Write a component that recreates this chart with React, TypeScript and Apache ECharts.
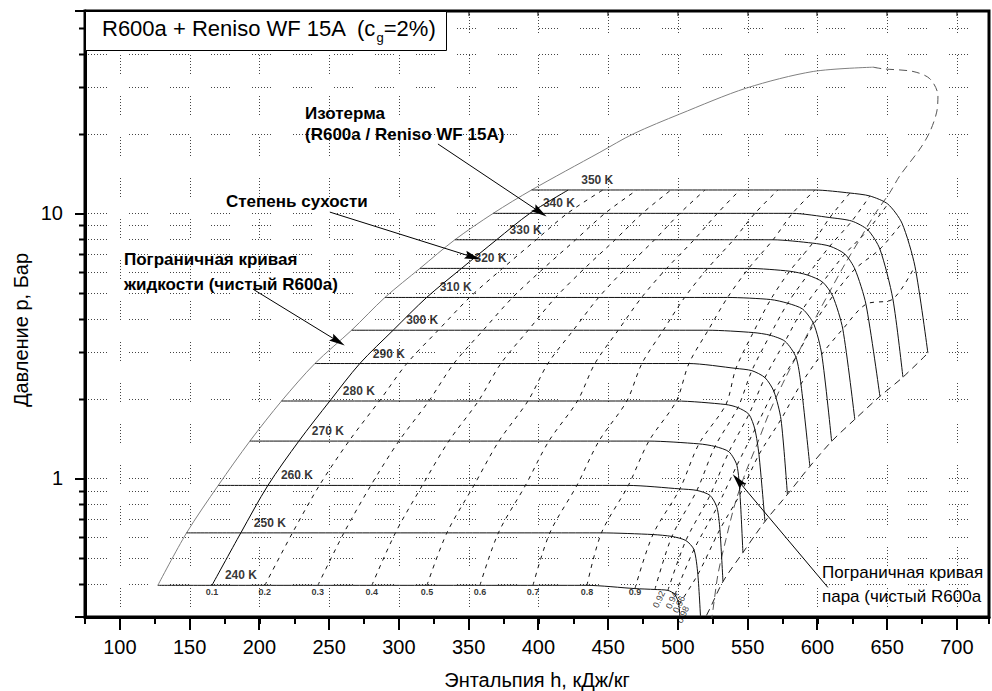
import React, { useEffect, useRef } from 'react';
import * as echarts from 'echarts';

const FONT = "'Liberation Sans', Arial, Helvetica, sans-serif";

// ---- axes ----
const xMin = 75;
const xMax = 723;
const yMin = 0.3;
const yMax = 58;
const xMajorTicks = [100, 150, 200, 250, 300, 350, 400, 450, 500, 550, 600, 650, 700];
const yMinorTicks = [0.4, 0.5, 0.6, 0.7, 0.8, 0.9, 2, 3, 4, 5, 6, 7, 8, 9, 20, 30, 40, 50];
const yGridLines = [0.4, 0.5, 0.6, 0.7, 0.8, 0.9, 1, 2, 3, 4, 5, 6, 7, 8, 9, 10, 20, 30, 40, 50];

// ---- isotherms (K) and their pressure level (bar) ----
const temps = [240, 250, 260, 270, 280, 290, 300, 310, 320, 330, 340, 350];
const isoP = [0.395, 0.623, 0.941, 1.383, 1.959, 2.713, 3.623, 4.816, 6.199, 7.949, 10.0, 12.25];

// dryness fractions of the point columns
const qualities = [0, 0.1, 0.2, 0.3, 0.4, 0.5, 0.6, 0.7, 0.8, 0.9, 0.92, 0.94, 0.96, 0.98, 1.0];

// enthalpy at q = 0 ... 0.9 on every isotherm (flat part)
const isoFlatH = [
  [127.2, 166.0, 203.9, 241.9, 280.6, 320.1, 358.1, 396.1, 434.8, 469.2],
  [147.8, 186.7, 223.7, 260.6, 297.5, 334.4, 371.3, 408.2, 445.2, 482.1],
  [170.5, 206.1, 243.0, 279.9, 316.8, 353.8, 390.7, 427.6, 464.5, 501.4],
  [193.2, 228.3, 264.2, 300.0, 335.8, 371.7, 407.5, 443.4, 479.2, 515.1],
  [215.9, 250.5, 286.0, 321.5, 357.0, 392.5, 428.0, 463.4, 498.9, 534.4],
  [239.8, 272.0, 305.7, 339.4, 373.1, 406.8, 440.5, 474.2, 507.9, 541.6],
  [266.1, 295.9, 328.2, 360.4, 392.7, 425.0, 457.2, 489.5, 521.7, 554.0],
  [290.0, 319.9, 350.7, 381.5, 412.3, 443.2, 474.0, 504.8, 535.6, 566.5],
  [315.1, 344.9, 374.3, 403.7, 433.1, 462.5, 491.9, 521.3, 550.7, 580.1],
  [340.1, 370.0, 398.4, 426.7, 455.0, 483.3, 511.6, 539.9, 568.2, 596.6],
  [367.6, 393.9, 420.8, 447.7, 474.5, 501.4, 528.3, 555.2, 582.1, 608.9],
  [395.1, 421.4, 446.2, 470.6, 495.0, 519.4, 544.4, 571.7, 598.2, 623.3],
];
// pressure at q = 0.9
const isoP90 = [0.384, 0.614, 0.913, 1.35, 1.9, 2.6, 3.55, 4.73, 6.05, 7.72, 9.64, 11.93];
// bend of each isotherm: q = 0.92, 0.94, 0.96, 0.98, end
const isoBendH = [
  [483.5, 492.8, 497.9, 500.7, 502.2],
  [495.7, 505.7, 511.5, 514.3, 516.5],
  [513.6, 523.0, 528.0, 530.1, 532.3],
  [526.6, 536.6, 542.3, 544.5, 546.6],
  [543.0, 550.9, 555.2, 558.1, 562.4],
  [553.0, 562.4, 568.8, 573.9, 578.5],
  [566.0, 576.8, 584.6, 588.2, 594.6],
  [578.7, 589.5, 597.4, 603.1, 610.2],
  [593.0, 603.8, 611.0, 618.2, 626.8],
  [608.9, 619.7, 626.9, 634.8, 644.8],
  [624.7, 636.2, 644.8, 654.1, 661.3],
  [637.6, 650.5, 660.6, 669.9, 679.2],
];
const isoBendP = [
  [0.381, 0.378, 0.365, 0.334, 0.246],
  [0.604, 0.583, 0.539, 0.434, 0.281],
  [0.901, 0.863, 0.777, 0.642, 0.408],
  [1.32, 1.26, 1.12, 0.87, 0.525],
  [1.85, 1.745, 1.53, 1.23, 0.688],
  [2.55, 2.4, 2.13, 1.67, 0.87],
  [3.47, 3.29, 2.87, 2.27, 1.11],
  [4.58, 4.35, 3.82, 2.94, 1.38],
  [5.85, 5.5, 4.87, 3.66, 1.67],
  [7.52, 7.02, 6.16, 4.54, 2.04],
  [9.35, 8.65, 7.33, 4.75, 2.41],
  [11.63, 10.84, 9.19, 6.32, 2.97],
];

// liquid boundary curve of pure R600a above 350 K
const liqUpperH = [444.1, 468.0, 501.4, 549.2, 597.0, 640.0];
const liqUpperP = [17.0, 19.94, 23.7, 29.7, 34.3, 35.6];
// vapour boundary curve of pure R600a (dashed)
const vapH = [640.0, 647.0, 668.5, 680.6, 686.4, 685.5, 680.6, 673.5, 659.1, 652.0, 641.2, 630.5, 619.7, 609.0, 598.2, 587.5, 576.7, 565.9, 556.6, 548.0, 540.8, 534.4, 528.7, 524.4, 522.2];
const vapP = [35.6, 35.1, 34.3, 32.2, 27.8, 24.1, 20.3, 17.5, 13.87, 12.0, 9.94, 8.0, 6.43, 5.09, 3.99, 3.07, 2.37, 1.79, 1.34, 1.035, 0.798, 0.588, 0.434, 0.301, 0.269];

// annotation arrows (from -> to), data coordinates
const arrowFrom = [[328.0, 18.27], [250.5, 10.11], [195.3, 5.18], [607.5, 0.388]];
const arrowTo = [[401.1, 10.11], [353.0, 6.84], [256.3, 3.29], [543.0, 0.983]];

const DOTS = [1, 2, 1, 2, 1, 2, 1, 2, 1, 2, 1, 2, 1, 22];
const ARROW = 'path://M5,0L10,20L5,17L0,20Z';

function isoPoints(i: number): number[][] {
  const pts: number[][] = [];
  for (let k = 0; k < 9; k++) pts.push([isoFlatH[i][k], isoP[i]]);
  pts.push([isoFlatH[i][9], isoP90[i]]);
  for (let j = 0; j < 5; j++) pts.push([isoBendH[i][j], isoBendP[i][j]]);
  return pts;
}

function buildOption(): any {
  const series: any[] = [];

  // horizontal dotted grid
  series.push({
    type: 'custom', silent: true, z: 1,
    data: yGridLines.map((v) => [xMin, v]),
    renderItem: (params: any, api: any) => {
      const cs = params.coordSys;
      const y = Math.round(api.coord([api.value(0), api.value(1)])[1]) + 0.5;
      return {
        type: 'line',
        shape: { x1: cs.x + 3, y1: y, x2: cs.x + cs.width - 2, y2: y },
        style: { stroke: '#444', lineWidth: 1, lineDash: DOTS },
      };
    },
  });
  // vertical dotted grid
  series.push({
    type: 'custom', silent: true, z: 1,
    data: xMajorTicks.map((v) => [v, 1]),
    renderItem: (params: any, api: any) => {
      const cs = params.coordSys;
      const x = Math.round(api.coord([api.value(0), api.value(1)])[0]) + 0.5;
      return {
        type: 'line',
        shape: { x1: x, y1: cs.y + 3, x2: x, y2: cs.y + cs.height - 2 },
        style: { stroke: '#444', lineWidth: 1, lineDash: DOTS },
      };
    },
  });
  // y minor ticks
  series.push({
    type: 'custom', silent: true, z: 5,
    data: yMinorTicks.map((v) => [xMin, v]),
    renderItem: (params: any, api: any) => {
      const cs = params.coordSys;
      const y = Math.round(api.coord([api.value(0), api.value(1)])[1]) + 0.5;
      return {
        type: 'line',
        shape: { x1: cs.x - 6, y1: y, x2: cs.x, y2: y },
        style: { stroke: '#000', lineWidth: 2 },
      };
    },
  });
  // x major ticks (bottom outside, top inside)
  series.push({
    type: 'custom', silent: true, z: 5,
    data: xMajorTicks.map((v) => [v, 1]),
    renderItem: (params: any, api: any) => {
      const cs = params.coordSys;
      const x = Math.round(api.coord([api.value(0), api.value(1)])[0]);
      return {
        type: 'group',
        children: [
          { type: 'line', shape: { x1: x, y1: cs.y + cs.height, x2: x, y2: cs.y + cs.height + 13 }, style: { stroke: '#000', lineWidth: 2 } },
          { type: 'line', shape: { x1: x, y1: cs.y, x2: x, y2: cs.y + 5 }, style: { stroke: '#000', lineWidth: 1 } },
        ],
      };
    },
  });

  // liquid boundary (grey)
  const liq = temps.map((_, i) => isoPoints(i)[0]).concat(liqUpperH.map((h, j) => [h, liqUpperP[j]]));
  series.push({
    type: 'line', name: 'liquid', data: liq, symbol: 'none', smooth: 0.3, silent: true, z: 3,
    lineStyle: { color: '#808080', width: 1 },
  });
  // annotation arrows
  series.push({
    type: 'line', name: 'arrows', data: [], symbol: 'none', silent: true, z: 7,
    markLine: {
      silent: true,
      symbol: ['none', ARROW],
      symbolSize: 16,
      symbolKeepAspect: true,
      itemStyle: { color: '#000' },
      lineStyle: { color: '#000', width: 1, type: 'solid' },
      label: { show: false },
      emphasis: { disabled: true },
      data: arrowFrom.map((f, i) => [{ coord: f }, { coord: arrowTo[i] }]),
    },
  });
  // vapour boundary (dashed)
  series.push({
    type: 'line', name: 'vapour', data: vapH.map((h, j) => [h, vapP[j]]), symbol: 'none', smooth: 0.3, silent: true, z: 3,
    lineStyle: { color: '#555', width: 1, type: [8, 5] },
  });

  // isotherms
  temps.forEach((T, i) => {
    series.push({
      type: 'line', name: `${T} K`, data: isoPoints(i), symbol: 'none', smooth: 0.25, silent: true, z: 4,
      lineStyle: { color: '#111', width: 1 },
    });
  });

  // dryness lines
  qualities.forEach((q, k) => {
    if (k === 0) return;
    const pts = temps.map((_, i) => isoPoints(i)[k]);
    let ls: any = { color: '#111', width: 1, type: [4, 5] };
    if (k === 1) ls = { color: '#000', width: 1, type: 'solid' };
    if (q === 1) ls = { color: '#222', width: 1, type: [7, 5] };
    series.push({ type: 'line', name: `x=${q}`, data: pts, symbol: 'none', smooth: 0.3, silent: true, z: 3, lineStyle: ls });
  });

  const lbl = { color: '#000', textBorderWidth: 0, textShadowBlur: 0, fontFamily: FONT };
  // isotherm labels
  series.push({
    type: 'scatter', silent: true, z: 6, symbolSize: 0, itemStyle: { color: '#000' },
    data: temps.map((T, i) => ({ value: [isoFlatH[i][1], isoP[i]], name: `${T} K` })),
    label: { show: true, formatter: '{b}', position: 'right', distance: 0, offset: [13, -10], fontSize: 12, fontWeight: 'bold', ...lbl },
  });
  // dryness labels 0.1 ... 0.9
  series.push({
    type: 'scatter', silent: true, z: 6, symbolSize: 0, itemStyle: { color: '#000' },
    data: qualities.slice(1, 10).map((q, k) => ({ value: [isoFlatH[0][k + 1], isoP[0]], name: String(q) })),
    label: { show: true, formatter: '{b}', position: 'bottom', distance: 2, fontSize: 9, fontWeight: 'bold', ...lbl },
  });
  // dryness labels in the bend
  series.push({
    type: 'scatter', silent: true, z: 6, symbolSize: 0, itemStyle: { color: '#000' },
    data: qualities.slice(10, 14).map((q, j) => ({ value: [isoBendH[0][j], isoBendP[0][j]], name: String(q) })),
    label: { show: true, formatter: '{b}', position: 'bottom', distance: 8, rotate: 65, fontSize: 9, ...lbl },
  });

  const boldText = (text: string, x: number, y: number) => ({
    type: 'text', x, y, z: 50, silent: true,
    style: { text, fill: '#000', fontSize: 17, fontWeight: 'bold', fontFamily: FONT, textVerticalAlign: 'middle', verticalAlign: 'middle' },
  });
  const plainText = (text: string, x: number, y: number) => ({
    type: 'text', x, y, z: 50, silent: true,
    style: { text, fill: '#000', fontSize: 17, fontFamily: FONT, textVerticalAlign: 'middle', verticalAlign: 'middle' },
  });

  return {
    animation: false,
    backgroundColor: '#fff',
    grid: {
      left: 85, top: 11, right: 3, bottom: 74, show: true, borderColor: '#000', borderWidth: 3,
      containLabel: false, outerBoundsMode: 'none',
    },
    xAxis: {
      type: 'value', min: xMin, max: xMax, interval: 25,
      name: 'Энтальпия h, кДж/кг', nameLocation: 'middle', nameGap: 53,
      nameTextStyle: { fontSize: 20, color: '#000', fontFamily: FONT },
      axisLine: { lineStyle: { color: '#000', width: 3 } },
      axisTick: { length: 7, lineStyle: { color: '#000', width: 2 } },
      axisLabel: {
        fontSize: 20, color: '#000', fontFamily: FONT, margin: 20,
        formatter: (v: number) => (xMajorTicks.indexOf(Math.round(v)) >= 0 && Math.abs(v - Math.round(v)) < 1e-6 ? String(Math.round(v)) : ''),
      },
      splitLine: { show: false },
    },
    yAxis: {
      type: 'log', logBase: 10, min: yMin, max: yMax,
      axisLine: { show: true, lineStyle: { color: '#000', width: 3 } },
      axisTick: { show: true, length: 10, lineStyle: { color: '#000', width: 2 } },
      axisLabel: {
        fontSize: 20, color: '#000', fontFamily: FONT, margin: 22,
        formatter: (v: number) => {
          const l = Math.log10(v);
          return Math.abs(l - Math.round(l)) < 1e-6 ? String(Math.round(Math.pow(10, Math.round(l)))) : '';
        },
      },
      splitLine: { show: false },
      minorTick: { show: false },
    },
    graphic: [
      { type: 'rect', z: 40, silent: true, shape: { x: 85.5, y: 11.5, width: 361, height: 39 }, style: { fill: '#fff', stroke: '#000', lineWidth: 1 } },
      {
        type: 'text', x: 102, y: 28, z: 41, silent: true,
        style: {
          text: '{a|R600a + Reniso WF 15A  (c}{s|g}{a|=2%)}',
          textVerticalAlign: 'middle', verticalAlign: 'middle',
          rich: {
            a: { fontSize: 22, fontFamily: FONT, fill: '#000', color: '#000', lineHeight: 32, verticalAlign: 'middle' },
            s: { fontSize: 13, fontFamily: FONT, fill: '#000', color: '#000', lineHeight: 13, verticalAlign: 'bottom' },
          },
        },
      },
      boldText('Изотерма', 305, 113),
      boldText('(R600a / Reniso WF 15A)', 305, 134),
      boldText('Степень сухости', 226, 201),
      boldText('Пограничная кривая', 124, 259),
      boldText('жидкости (чистый R600a)', 124, 284),
      plainText('Пограничная кривая', 822, 572),
      plainText('пара (чистый R600a', 822, 596),
      {
        type: 'text', x: 21, y: 330, rotation: Math.PI / 2, z: 50, silent: true,
        style: { text: 'Давление p, Бар', fill: '#000', fontSize: 20, fontFamily: FONT, textAlign: 'center', align: 'center', textVerticalAlign: 'middle', verticalAlign: 'middle' },
      },
    ],
    series,
  };
}

export default function App() {
  const ref = useRef<HTMLDivElement>(null);
  useEffect(() => {
    const chart = echarts.init(ref.current as HTMLDivElement, null, { renderer: 'svg' });
    chart.setOption(buildOption());
    return () => chart.dispose();
  }, []);
  return (
    <div
      ref={ref}
      style={{ position: 'fixed', left: 0, top: 0, width: 992, height: 691, background: '#fff' }}
    />
  );
}
